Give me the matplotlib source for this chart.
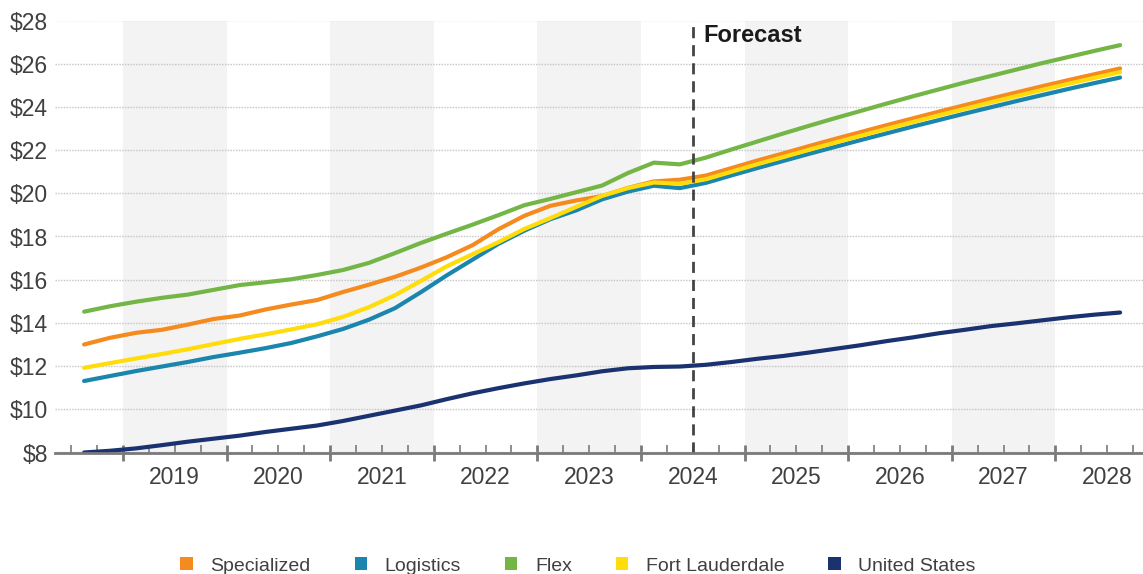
import numpy as np
import matplotlib.pyplot as plt
from matplotlib.patches import Patch
from matplotlib.transforms import blended_transform_factory

plt.rcParams['font.family'] = ['Liberation Sans', 'DejaVu Sans']

# Квартальные точки: 2018 Q3 ... 2028 Q3 (с 2024 Q3 - прогноз)
quarters = [f'{y}Q{q}' for y in range(2018, 2029) for q in range(1, 5)][2:-1]

specialized = [13.00, 13.31, 13.54, 13.68, 13.92, 14.18, 14.34, 14.62, 14.85, 15.06,
               15.43, 15.77, 16.13, 16.56, 17.04, 17.60, 18.34, 18.96, 19.42, 19.67,
               19.87, 20.25, 20.55, 20.63,
               20.82, 21.17, 21.52, 21.85, 22.19, 22.52, 22.84, 23.16, 23.47, 23.78,
               24.08, 24.38, 24.67, 24.96, 25.24, 25.51, 25.78]
logistics = [11.31, 11.54, 11.77, 11.98, 12.19, 12.42, 12.62, 12.83, 13.07, 13.38,
             13.72, 14.15, 14.68, 15.42, 16.20, 16.93, 17.66, 18.27, 18.80, 19.21,
             19.72, 20.08, 20.35, 20.24,
             20.48, 20.83, 21.17, 21.50, 21.83, 22.15, 22.47, 22.78, 23.09, 23.39,
             23.69, 23.98, 24.27, 24.55, 24.83, 25.10, 25.36]
flex = [14.52, 14.77, 14.98, 15.16, 15.31, 15.53, 15.75, 15.88, 16.02, 16.22,
        16.45, 16.78, 17.23, 17.70, 18.13, 18.55, 18.99, 19.45, 19.74, 20.05,
        20.36, 20.94, 21.42, 21.34,
        21.65, 22.03, 22.40, 22.77, 23.13, 23.48, 23.82, 24.16, 24.49, 24.81,
        25.13, 25.43, 25.73, 26.03, 26.31, 26.59, 26.86]
fort_lauderdale = [11.92, 12.14, 12.35, 12.56, 12.78, 13.02, 13.26, 13.47, 13.70, 13.94,
                   14.28, 14.73, 15.28, 15.94, 16.62, 17.18, 17.74, 18.35, 18.85, 19.37,
                   19.88, 20.24, 20.50, 20.44,
                   20.65, 21.00, 21.35, 21.68, 22.02, 22.35, 22.67, 22.99, 23.30, 23.61,
                   23.91, 24.21, 24.50, 24.79, 25.07, 25.34, 25.61]
united_states = [8.00, 8.08, 8.19, 8.34, 8.50, 8.64, 8.78, 8.95, 9.10, 9.25,
                 9.46, 9.70, 9.94, 10.18, 10.47, 10.74, 10.98, 11.20, 11.40, 11.57,
                 11.76, 11.90, 11.96, 11.98,
                 12.06, 12.19, 12.34, 12.47, 12.63, 12.80, 12.97, 13.16, 13.33, 13.52,
                 13.68, 13.85, 13.98, 14.12, 14.26, 14.38, 14.48]

years = list(range(2019, 2029))
forecast_start = 2024.5

series = [
    ('Specialized', specialized, '#F58A1F'),
    ('Logistics', logistics, '#1B86AD'),
    ('Flex', flex, '#73B646'),
    ('Fort Lauderdale', fort_lauderdale, '#FFDC0A'),
    ('United States', united_states, '#1B3271'),
]

# позиция квартала = середина квартала в долях года
x = np.array([int(q[:4]) + (int(q[-1]) - 1) / 4 + 0.125 for q in quarters])

W, H = 1143, 574
fig = plt.figure(figsize=(W / 100, H / 100), dpi=100)
ax = fig.add_axes([55 / W, (H - 452.5) / H, (W - 55) / W, 432 / H])

# Серые полосы по нечетным годам
for y in years[::2]:
    ax.axvspan(y, y + 1, color='#F3F3F3', zorder=0, lw=0)

for name, vals, col in series:
    ax.plot(x, vals, color=col, linewidth=3, solid_capstyle='round',
            solid_joinstyle='round', zorder=3)

ax.axvline(forecast_start, color='#444444', linewidth=2, linestyle=(0, (4, 2.5)), zorder=4)
ax.text(forecast_start + 0.1, 27.3, 'Forecast', fontsize=17, fontweight='bold',
        color='#1a1a1a', ha='left', va='center')

ax.set_xlim(2018.344, 2028.846)
ax.set_ylim(8, 28)

ax.set_yticks(range(8, 29, 2))
ax.set_yticklabels([f'${v}' for v in range(8, 29, 2)])
ax.yaxis.grid(True, linestyle=(0, (1, 1)), color='#C4C4C4', linewidth=1)
ax.set_axisbelow(True)
ax.tick_params(axis='y', length=0, pad=5, labelsize=16.5, labelcolor='#404040')

ax.set_xticks([y for y in range(2019, 2029)])
ax.set_xticklabels([])
ax.set_xticks(np.arange(2018.5, 2028.8, 0.25), minor=True)
ax.tick_params(axis='x', which='major', direction='inout', length=12, width=2, color='#7a7a7a')
ax.tick_params(axis='x', which='minor', direction='in', length=5.5, width=1.2, color='#7a7a7a')

trans = blended_transform_factory(ax.transData, ax.transAxes)
for y in years:
    ax.text(y + 0.5, -0.059, str(y), transform=trans, ha='center', va='center',
            fontsize=16.5, color='#404040')

for s in ['top', 'right', 'left']:
    ax.spines[s].set_visible(False)
ax.spines['bottom'].set_color('#7a7a7a')
ax.spines['bottom'].set_linewidth(2)
ax.spines['bottom'].set_zorder(5)

handles = [Patch(facecolor=col, edgecolor='none', label=name) for name, _, col in series]
fig.legend(handles=handles, loc='center', bbox_to_anchor=(578 / W, 1 - 566 / H), ncol=5,
           frameon=False, fontsize=14, handlelength=0.65, handleheight=0.65,
           handletextpad=0.9, columnspacing=2.25, labelcolor='#404040')

fig.savefig('out.png', dpi=100)
